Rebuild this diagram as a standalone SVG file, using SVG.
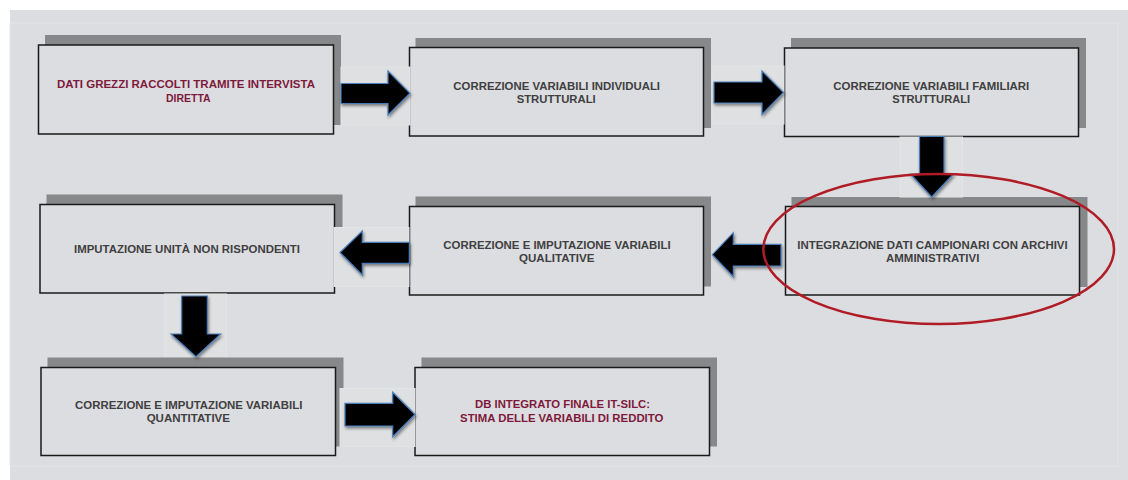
<svg xmlns="http://www.w3.org/2000/svg" width="1128" height="480" viewBox="0 0 1128 480">
  <defs>
    <style>
      .panel { fill: #dcdde0; }
      .frame { fill: none; stroke: #e4e5e7; stroke-width: 1; }
      .shadow { fill: #878889; }
      .box { fill: #dcdde0; stroke: #1a1a1a; stroke-width: 1.5; }
      .lbl { font-family: "Liberation Sans", Arial, sans-serif; font-size: 11.5px; font-weight: bold; text-anchor: middle; fill: #404040; }
      .lbl.accent { fill: #7d1a3c; }
      .arrow-bg { fill: #dee0e2; stroke: #e3e4e6; stroke-width: 1; }
      .arrow { fill: #000000; stroke: #4a7ebb; stroke-width: 1.2; stroke-linejoin: miter; filter: url(#soft); }
      .focus { fill: none; stroke: #b01c26; stroke-width: 2.5; }
    </style>
    <filter id="soft" x="-30%" y="-30%" width="160%" height="160%">
      <feDropShadow dx="1" dy="2" stdDeviation="1.5" flood-color="#000" flood-opacity="0.45"/>
    </filter>
  </defs>

  <!-- background panel -->
  <rect class="panel" x="10" y="10" width="1118" height="470"/>
  <rect class="frame" x="10" y="23" width="1108" height="443"/>

  <!-- row 1 -->
  <g id="node-dati-grezzi">
    <rect class="shadow" x="45" y="35" width="296" height="90"/>
    <rect class="box" x="38.5" y="45" width="295" height="89"/>
    <text class="lbl accent" x="186" y="88.3" textLength="258" lengthAdjust="spacingAndGlyphs">DATI GREZZI RACCOLTI TRAMITE INTERVISTA</text>
    <text class="lbl accent" x="188.3" y="101.7" textLength="44.7" lengthAdjust="spacingAndGlyphs">DIRETTA</text>
  </g>

  <g id="node-var-individuali">
    <rect class="shadow" x="415.5" y="38" width="295.5" height="90"/>
    <rect class="box" x="409.5" y="47.5" width="294" height="88.5"/>
    <text class="lbl" x="556.7" y="90" textLength="206.7" lengthAdjust="spacingAndGlyphs">CORREZIONE VARIABILI INDIVIDUALI</text>
    <text class="lbl" x="556.2" y="103.3" textLength="79" lengthAdjust="spacingAndGlyphs">STRUTTURALI</text>
  </g>

  <g id="node-var-familiari">
    <rect class="shadow" x="791" y="38" width="295" height="90"/>
    <rect class="box" x="784.5" y="48" width="294" height="88.5"/>
    <text class="lbl" x="931.3" y="90" textLength="196" lengthAdjust="spacingAndGlyphs">CORREZIONE VARIABILI FAMILIARI</text>
    <text class="lbl" x="931.2" y="102.7" textLength="77.7" lengthAdjust="spacingAndGlyphs">STRUTTURALI</text>
  </g>

  <!-- row 2 -->
  <g id="node-imputazione-unita">
    <rect class="shadow" x="46.5" y="194.5" width="296" height="90"/>
    <rect class="box" x="40" y="204.5" width="294.5" height="88.5"/>
    <text class="lbl" x="187" y="253.3" textLength="226" lengthAdjust="spacingAndGlyphs">IMPUTAZIONE UNITÀ NON RISPONDENTI</text>
  </g>

  <g id="node-qualitative">
    <rect class="shadow" x="415.5" y="196.5" width="295.5" height="90"/>
    <rect class="box" x="409.5" y="206.5" width="294" height="88.5"/>
    <text class="lbl" x="557" y="249" textLength="227.3" lengthAdjust="spacingAndGlyphs">CORREZIONE E IMPUTAZIONE VARIABILI</text>
    <text class="lbl" x="556.7" y="261.7" textLength="75.3" lengthAdjust="spacingAndGlyphs">QUALITATIVE</text>
  </g>

  <g id="node-integrazione">
    <rect class="shadow" x="791.5" y="197" width="296" height="90"/>
    <rect class="box" x="785.5" y="206.5" width="294" height="88.5"/>
    <text class="lbl" x="932.5" y="248.7" textLength="270.3" lengthAdjust="spacingAndGlyphs">INTEGRAZIONE DATI CAMPIONARI CON ARCHIVI</text>
    <text class="lbl" x="932.7" y="261.7" textLength="93.3" lengthAdjust="spacingAndGlyphs">AMMINISTRATIVI</text>
  </g>

  <!-- row 3 -->
  <g id="node-quantitative">
    <rect class="shadow" x="47.5" y="357.5" width="296" height="89"/>
    <rect class="box" x="41" y="367.5" width="294.5" height="88"/>
    <text class="lbl" x="188.7" y="409.3" textLength="227.3" lengthAdjust="spacingAndGlyphs">CORREZIONE E IMPUTAZIONE VARIABILI</text>
    <text class="lbl" x="188.3" y="422" textLength="83.3" lengthAdjust="spacingAndGlyphs">QUANTITATIVE</text>
  </g>

  <g id="node-db-finale">
    <rect class="shadow" x="421.5" y="357.5" width="295.5" height="89"/>
    <rect class="box" x="415" y="367.5" width="294.5" height="88"/>
    <text class="lbl accent" x="562.5" y="408.3" textLength="175" lengthAdjust="spacingAndGlyphs">DB INTEGRATO FINALE IT-SILC:</text>
    <text class="lbl accent" x="561.7" y="421.7" textLength="203.3" lengthAdjust="spacingAndGlyphs">STIMA DELLE VARIABILI DI REDDITO</text>
  </g>

  <!-- connectors: block arrows -->
  <g id="connectors">
    <rect class="arrow-bg" x="341" y="67" width="69" height="58"/>
    <polygon class="arrow" points="341,83.5 388,83.5 388,71 410,93.3 388,115 388,103.5 341,103.5"/>

    <rect class="arrow-bg" x="712" y="66" width="72" height="58"/>
    <polygon class="arrow" points="714,82 762,82 762,71 783.5,92.5 762,114.5 762,103 714,103"/>

    <rect class="arrow-bg" x="900" y="137" width="62.5" height="60"/>
    <polygon class="arrow" points="919.5,136.5 944,136.5 944,174 953.5,174 931.7,197 910.5,174 919.5,174"/>

    <polygon class="arrow" points="781,244.3 733.3,244.3 733.3,232.7 712.3,254.7 733.3,276.7 733.3,266 781,266"/>

    <rect class="arrow-bg" x="334" y="227.5" width="75" height="59"/>
    <polygon class="arrow" points="409.3,242.3 362.3,242.3 362.3,231 340,252.5 362.3,275 362.3,263.3 409.3,263.3"/>

    <rect class="arrow-bg" x="164.5" y="294" width="62" height="62"/>
    <polygon class="arrow" points="181.7,296 207.3,296 207.3,334 220.7,334 196,356.7 171,334 181.7,334"/>

    <rect class="arrow-bg" x="340" y="388.5" width="75" height="58"/>
    <polygon class="arrow" points="345,403.3 392.7,403.3 392.7,392.3 415,414.5 392.7,436.7 392.7,426 345,426"/>
  </g>

  <!-- highlight around the integration step -->
  <ellipse id="highlight" class="focus" cx="938.7" cy="249" rx="175.3" ry="75"/>
</svg>
